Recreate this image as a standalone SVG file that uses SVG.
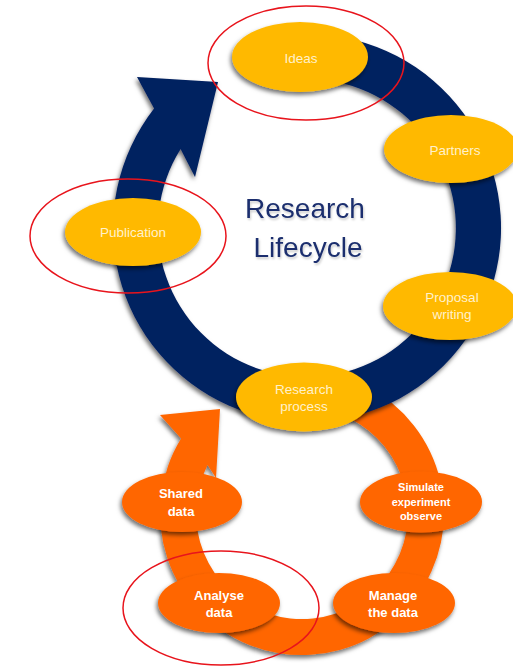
<svg xmlns="http://www.w3.org/2000/svg" width="513" height="669" viewBox="0 0 513 669">
<defs>
<filter id="sh" x="-20%" y="-20%" width="140%" height="140%">
<feDropShadow dx="-1.5" dy="3" stdDeviation="2" flood-color="#000" flood-opacity="0.55"/>
</filter>
<filter id="tsh" x="-10%" y="-10%" width="120%" height="130%">
<feDropShadow dx="1" dy="2" stdDeviation="1" flood-color="#000" flood-opacity="0.2"/>
</filter>
<style>
.gold{fill:#FFB900;filter:url(#sh)}
.orng{fill:#FF6600;filter:url(#sh)}
.gt{font-family:"Liberation Sans",Arial,sans-serif;font-size:13.5px;fill:#FFF1CC;text-anchor:middle}
.ot{font-family:"Liberation Sans",Arial,sans-serif;font-size:13px;font-weight:bold;fill:#FFFFFF;text-anchor:middle}
.ots{font-family:"Liberation Sans",Arial,sans-serif;font-size:11px;font-weight:bold;fill:#FFFFFF;text-anchor:middle}
.red{fill:none;stroke:#E8141C;stroke-width:1.5}
.title{font-family:"Liberation Sans",Arial,sans-serif;font-size:28px;fill:#1B2F6E;text-anchor:middle;filter:url(#tsh)}
</style>
</defs>
<rect width="513" height="669" fill="#FFFFFF"/>
<g id="connectors">
<path id="orange-loop" d="M307,371.1 A142,142 0 1 1 181.1,438.6 L160,415 L220,409 L216,478 L207.6,464.9 A106,106 0 1 0 305.7,407.1 Z" fill="#FF6600" filter="url(#sh)"/>
<path id="navy-loop" d="M290.1,34.7 A194,194 0 1 1 154.1,108.6 L137,77 L218,82 L195,177 L180.6,149 A149,149 0 1 0 294,79.6 Z" fill="#002060" filter="url(#sh)"/>
</g>
<g id="title">
<text class="title" x="305" y="218">Research</text>
<text class="title" x="308" y="257">Lifecycle</text>
</g>
<g id="ideas">
<ellipse class="gold" cx="300" cy="57" rx="68" ry="35"/>
<text class="gt" x="301" y="62.5">Ideas</text>
</g>
<g id="partners">
<ellipse class="gold" cx="451" cy="149" rx="67" ry="34"/>
<text class="gt" x="455" y="154.5">Partners</text>
</g>
<g id="proposal">
<ellipse class="gold" cx="450" cy="306" rx="67" ry="34"/>
<text class="gt" x="452" y="301.5">Proposal</text>
<text class="gt" x="452" y="318.5">writing</text>
</g>
<g id="publication">
<ellipse class="gold" cx="133" cy="232" rx="68" ry="34"/>
<text class="gt" x="133" y="236.5">Publication</text>
</g>
<g id="research-process">
<ellipse class="gold" cx="304" cy="397" rx="68" ry="34.5"/>
<text class="gt" x="304" y="393.5">Research</text>
<text class="gt" x="304" y="410.5">process</text>
</g>
<g id="shared-data">
<ellipse class="orng" cx="182" cy="502" rx="60" ry="30"/>
<text class="ot" x="181" y="497.5">Shared</text>
<text class="ot" x="181" y="515.5">data</text>
</g>
<g id="simulate">
<ellipse class="orng" cx="421" cy="502" rx="61" ry="30.5"/>
<text class="ots" x="421" y="491">Simulate</text>
<text class="ots" x="421" y="505.5">experiment</text>
<text class="ots" x="421" y="520">observe</text>
</g>
<g id="analyse-data">
<ellipse class="orng" cx="219" cy="603" rx="61" ry="30"/>
<text class="ot" x="219" y="599.5">Analyse</text>
<text class="ot" x="219" y="616.5">data</text>
</g>
<g id="manage-data">
<ellipse class="orng" cx="394" cy="603" rx="61" ry="30"/>
<text class="ot" x="393" y="599.5">Manage</text>
<text class="ot" x="393" y="616.5">the data</text>
</g>
<g id="highlights">
<ellipse class="red" cx="306" cy="63" rx="98" ry="57"/>
<ellipse class="red" cx="128" cy="236" rx="98" ry="57"/>
<ellipse class="red" cx="221" cy="608" rx="98" ry="57"/>
</g>
</svg>
